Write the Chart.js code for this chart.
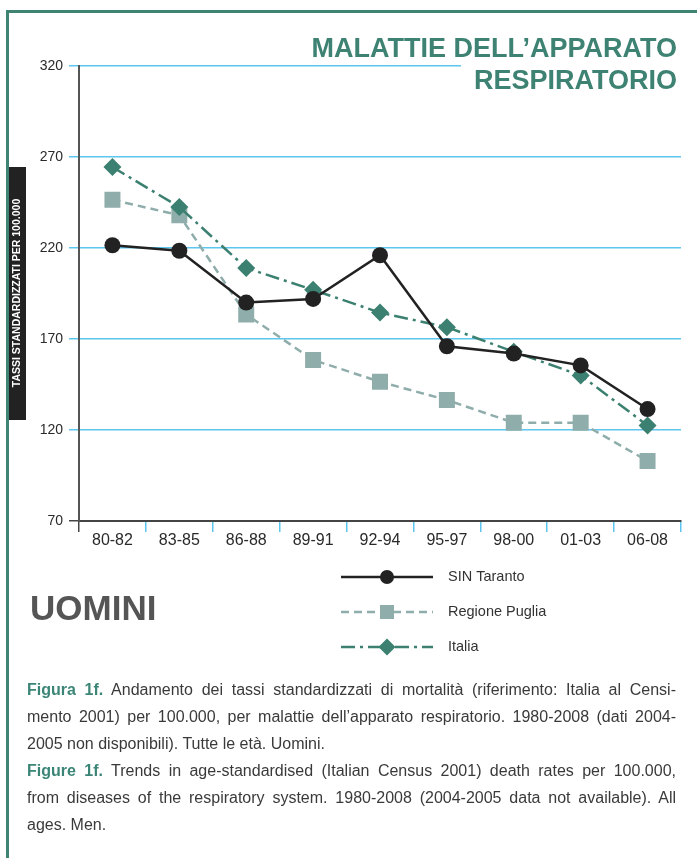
<!DOCTYPE html>
<html>
<head>
<meta charset="utf-8">
<script src="https://cdn.jsdelivr.net/npm/chart.js@4.4.0/dist/chart.umd.min.js"></script>
<style>
  html, body { margin: 0; padding: 0; background: #fff; }
  #page { position: relative; width: 697px; height: 858px; overflow: hidden; font-family: "Liberation Sans", Arial, sans-serif; }
  #chart { position: absolute; left: 0; top: 0; }
  #frame { position: absolute; left: 6px; top: 10px; width: 720px; height: 900px; border-left: 3px solid #3f8373; border-top: 3px solid #3f8373; }
  #title { position: absolute; right: 20px; top: 32px; text-align: right; font-weight: bold; font-size: 27px; line-height: 32px; color: #3d8272; white-space: nowrap; }
  #title span { display: inline-block; background: #fff; padding-left: 13px; padding-right: 12px; margin-right: -12px; }
  #sex { position: absolute; left: 30px; top: 588px; font-weight: bold; font-size: 35px; line-height: 40px; color: #555; }
  #caption { position: absolute; left: 27px; top: 676px; width: 649px; font-size: 16px; line-height: 27px; color: #3a3a3a; }
  #caption div { white-space: nowrap; text-align: justify; text-align-last: justify; height: 27px; }
  #caption div.last { text-align-last: left; }
  #caption b { color: #3b8577; }
</style>
</head>
<body>
<div id="page">
  <canvas id="chart" width="697" height="858"></canvas>
  <div id="frame"></div>
  <div id="title">MALATTIE DELL’APPARATO<br><span>RESPIRATORIO</span></div>
  <div id="sex">UOMINI</div>
  <div id="caption">
    <div><b>Figura 1f.</b> Andamento dei tassi standardizzati di mortalità (riferimento: Italia al Censi-</div>
    <div>mento 2001) per 100.000, per malattie dell’apparato respiratorio. 1980-2008 (dati 2004-</div>
    <div class="last">2005 non disponibili). Tutte le età. Uomini.</div>
    <div><b>Figure 1f.</b> Trends in age-standardised (Italian Census 2001) death rates per 100.000,</div>
    <div>from diseases of the respiratory system. 1980-2008 (2004-2005 data not available). All</div>
    <div class="last">ages. Men.</div>
  </div>
</div>
<script>
// data
const periods = ['80-82', '83-85', '86-88', '89-91', '92-94', '95-97', '98-00', '01-03', '06-08'];
const sinTaranto = [221.5, 218.5, 190, 192, 216, 166, 162, 155.5, 131.5];
const regionePuglia = [246.5, 238, 183.5, 158.5, 146.5, 136.5, 124, 124, 103];
const italia = [264.5, 242.5, 209, 197, 184.5, 176.5, 163, 150, 122.5];
const yTicks = [70, 120, 170, 220, 270, 320];
const seriesNames = ['SIN Taranto', 'Regione Puglia', 'Italia'];

const gridBlue = '#5cc6ee';
const axisDark = '#444';

// y axis title box + custom legend
const extrasPlugin = {
  id: 'extras',
  beforeDraw(chart) {
    const ctx = chart.ctx;
    ctx.save();
    ctx.fillStyle = '#fff';
    ctx.fillRect(0, 0, chart.width, chart.height);
    ctx.restore();
  },
  afterDraw(chart) {
    const ctx = chart.ctx;
    ctx.save();
    // y axis title box
    ctx.fillStyle = '#222';
    ctx.fillRect(7, 167, 19, 253);
    ctx.translate(17, 293);
    ctx.rotate(-Math.PI / 2);
    ctx.fillStyle = '#fff';
    ctx.font = 'bold 10.5px "Liberation Sans Narrow", "Liberation Sans", sans-serif';
    ctx.textAlign = 'center';
    ctx.textBaseline = 'middle';
    ctx.fillText('TASSI STANDARDIZZATI PER 100.000', 0, 0);
    ctx.restore();

    // legend, rows in the reference order
    const rowY = [577, 612, 647];
    [0, 1, 2].forEach((i, r) => {
      const ds = chart.data.datasets[i];
      const y = rowY[r];
      ctx.save();
      ctx.strokeStyle = ds.borderColor;
      ctx.lineWidth = ds.borderWidth;
      ctx.setLineDash(ds.borderDash || []);
      ctx.beginPath();
      ctx.moveTo(341, y);
      ctx.lineTo(433, y);
      ctx.stroke();
      ctx.setLineDash([]);
      ctx.fillStyle = ds.pointBackgroundColor;
      ctx.beginPath();
      if (ds.pointStyle === 'circle') {
        ctx.arc(387, y, 7, 0, Math.PI * 2);
      } else if (ds.pointStyle === 'rect') {
        ctx.rect(380, y - 7, 14, 14);
      } else {
        ctx.moveTo(387, y - 8.5);
        ctx.lineTo(395.5, y);
        ctx.lineTo(387, y + 8.5);
        ctx.lineTo(378.5, y);
        ctx.closePath();
      }
      ctx.fill();
      ctx.fillStyle = '#333';
      ctx.font = '14.5px "Liberation Sans", sans-serif';
      ctx.textBaseline = 'middle';
      ctx.fillText(ds.label, 448, y);
      ctx.restore();
    });
  }
};

new Chart(document.getElementById('chart'), {
  type: 'line',
  data: {
    labels: periods,
    datasets: [
      {
        label: seriesNames[0],
        data: sinTaranto,
        order: 0,
        borderColor: '#222',
        borderWidth: 2.5,
        pointStyle: 'circle',
        pointRadius: 8,
        pointBackgroundColor: '#222',
        pointBorderWidth: 0,
        tension: 0
      },
      {
        label: seriesNames[1],
        data: regionePuglia,
        order: 2,
        borderColor: '#8fadaa',
        borderWidth: 2.5,
        borderDash: [8, 5],
        pointStyle: 'rect',
        pointRadius: 11.3,
        pointBackgroundColor: '#8fadaa',
        pointBorderWidth: 0,
        tension: 0
      },
      {
        label: seriesNames[2],
        data: italia,
        order: 1,
        borderColor: '#3b8070',
        borderWidth: 2.5,
        borderDash: [14, 5, 3, 5],
        pointStyle: 'rectRot',
        pointRadius: 9,
        pointBackgroundColor: '#3b8070',
        pointBorderWidth: 0,
        tension: 0
      }
    ]
  },
  options: {
    responsive: false,
    animation: false,
    events: [],
    layout: {
      padding: { left: 0, top: 66, right: 16, bottom: 297 }
    },
    plugins: {
      legend: { display: false },
      tooltip: { enabled: false }
    },
    scales: {
      x: {
        offset: true,
        grid: {
          offset: true,
          drawOnChartArea: false,
          drawTicks: true,
          tickLength: 11,
          lineWidth: 1.5,
          color: (c) => (c.index === 0 ? axisDark : gridBlue)
        },
        border: { color: axisDark, width: 2 },
        ticks: {
          color: '#2a2a2a',
          font: { family: 'Liberation Sans', size: 16 },
          padding: -1,
          maxRotation: 0,
          autoSkip: false
        },
        afterFit(scale) {
          scale.height = 40;
          scale.paddingLeft = 0;
          scale.paddingRight = 0;
        }
      },
      y: {
        min: 70,
        max: 320,
        afterBuildTicks(scale) {
          scale.ticks = yTicks.map((v) => ({ value: v }));
        },
        grid: {
          drawTicks: true,
          tickLength: 10,
          lineWidth: 1.5,
          color: (c) => (c.tick && c.tick.value === 70 ? axisDark : gridBlue)
        },
        border: { color: '#555', width: 2 },
        ticks: {
          color: '#2a2a2a',
          font: { family: 'Liberation Sans', size: 14 },
          padding: 6
        },
        afterFit(scale) {
          scale.width = 79;
          scale.paddingTop = 0;
          scale.paddingBottom = 0;
        }
      }
    }
  },
  plugins: [extrasPlugin]
});
</script>
</body>
</html>
